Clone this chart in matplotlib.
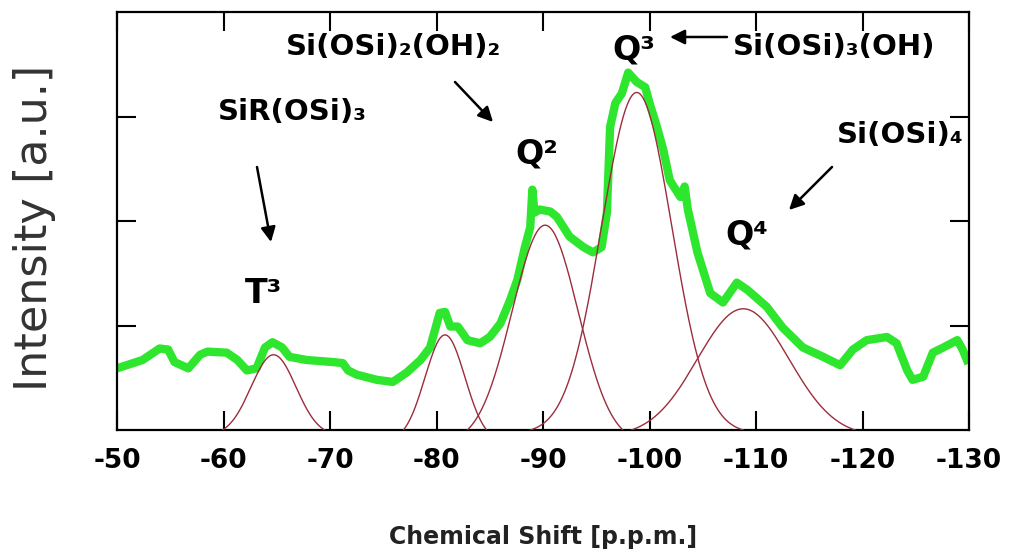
import numpy as np
from matplotlib import pyplot as plt

shift = [-50.0, -51.5, -52.4, -54.0, -54.8, -55.4, -56.7, -57.8, -58.5, -60.3,
         -61.3, -62.2, -63.1, -63.9, -64.6, -65.5, -66.2, -67.8, -70.3, -71.2,
         -71.7, -72.5, -74.4, -75.9, -77.2, -78.5, -79.4, -80.3, -80.8, -81.3,
         -82.0, -82.9, -84.1, -85.0, -86.0, -86.9, -87.6, -88.3, -88.8, -89.0,
         -89.2, -89.7, -90.7, -91.3, -92.5, -93.8, -94.7, -95.5, -96.0, -96.3,
         -96.8, -97.4, -98.0, -98.8, -99.6, -100.0, -100.7, -101.3, -101.9, -102.9,
         -103.3, -103.6, -104.5, -105.7, -106.9, -108.2, -109.2, -111.0, -112.5, -114.4,
         -116.3, -117.9, -119.1, -120.4, -122.3, -123.2, -124.2, -124.7, -125.7, -126.6,
         -127.6, -128.9, -129.4, -129.8]
intensity = [0.59, 0.64, 0.67, 0.78, 0.77, 0.65, 0.59, 0.72, 0.75, 0.74,
             0.67, 0.57, 0.59, 0.79, 0.84, 0.79, 0.70, 0.67, 0.65, 0.64,
             0.57, 0.53, 0.48, 0.46, 0.55, 0.67, 0.79, 1.12, 1.13, 0.99,
             0.99, 0.86, 0.83, 0.89, 1.02, 1.24, 1.44, 1.75, 1.94, 2.30,
             2.08, 2.11, 2.09, 2.04, 1.85, 1.75, 1.70, 1.75, 2.08, 2.90,
             3.13, 3.22, 3.42, 3.33, 3.28, 3.13, 2.90, 2.68, 2.39, 2.23,
             2.33, 2.11, 1.70, 1.31, 1.22, 1.41, 1.34, 1.18, 0.98, 0.79,
             0.70, 0.62, 0.77, 0.86, 0.89, 0.83, 0.57, 0.48, 0.51, 0.74,
             0.79, 0.86, 0.77, 0.67]

# fitted components (red): centre, height, sigma, half range drawn
peak_center = [-64.7, -80.8, -90.2, -98.8, -108.8]
peak_height = [0.72, 0.91, 1.96, 3.23, 1.16]
peak_sigma = [2.1, 1.87, 3.1, 3.3, 4.3]
peak_range = [4.8, 3.9, 7.3, 10.0, 10.5]

W, H = 1009, 556
plt.rcParams["axes.unicode_minus"] = False


def px(x, y):
    return x / W, 1 - y / H


fig = plt.figure(figsize=(W / 100, H / 100), dpi=100)
ax = fig.add_axes([117 / W, 1 - 430 / H, (969 - 117) / W, (430 - 12) / H])

ax.plot(shift, intensity, color="#2ee62e", lw=6, solid_joinstyle="round", zorder=2)

for c, a, s, r in zip(peak_center, peak_height, peak_sigma, peak_range):
    xx = np.linspace(c - r, c + r, 200)
    g = np.exp(-(xx - c) ** 2 / (2 * s ** 2))
    e0 = np.exp(-r ** 2 / (2 * s ** 2))
    ax.plot(xx, a * (g - e0) / (1 - e0), color="#9b2d3c", lw=1.0, zorder=3)

ax.set_xlim(-50, -130)
ax.set_ylim(0, 4)
ax.set_xticks(np.arange(-50, -131, -10))
ax.set_yticks([1, 2, 3])
ax.set_yticklabels([])
ax.tick_params(direction="in", length=14, width=1.5, top=True, right=True,
               labelsize=19, pad=13)
for lab in ax.get_xticklabels():
    lab.set_fontweight("bold")
for sp in ax.spines.values():
    sp.set_linewidth(1.6)

fig.text(*px(35, 228), "Intensity [a.u.]", rotation=90, fontsize=32,
         color="#333333", ha="center", va="center")
fig.text(*px(543, 537), "Chemical Shift [p.p.m.]", fontsize=17,
         fontweight="bold", color="#222222", ha="center", va="center")

txt = dict(fontsize=21, fontweight="bold", color="black")
fig.text(*px(393, 55), "Si(OSi)₂(OH)₂", ha="center", va="baseline", **txt)
fig.text(*px(292, 120), "SiR(OSi)₃", ha="center", va="baseline", **txt)
fig.text(*px(733, 55), "Si(OSi)₃(OH)", ha="left", va="baseline", **txt)
fig.text(*px(837, 143), "Si(OSi)₄", ha="left", va="baseline", **txt)

qtxt = dict(fontsize=24, fontweight="bold", color="black", ha="left", va="baseline")
fig.text(*px(612, 60), "Q³", **qtxt)
fig.text(*px(515, 163), "Q²", **qtxt)
fig.text(*px(725, 245), "Q⁴", **qtxt)
fig.text(*px(245, 303), "T³", **qtxt)

arrows = [((257, 167), (271, 242)), ((455, 82), (493, 122)),
          ((727, 37), (670, 37)), ((832, 167), (789, 210))]
for (x0, y0), (x1, y1) in arrows:
    ax.annotate("", xy=(x1, H - y1), xytext=(x0, H - y0),
                xycoords="figure pixels", textcoords="figure pixels",
                arrowprops=dict(arrowstyle="-|>", lw=1.8, color="black",
                                mutation_scale=22, shrinkA=0, shrinkB=0))

fig.savefig("out.png", dpi=100)
